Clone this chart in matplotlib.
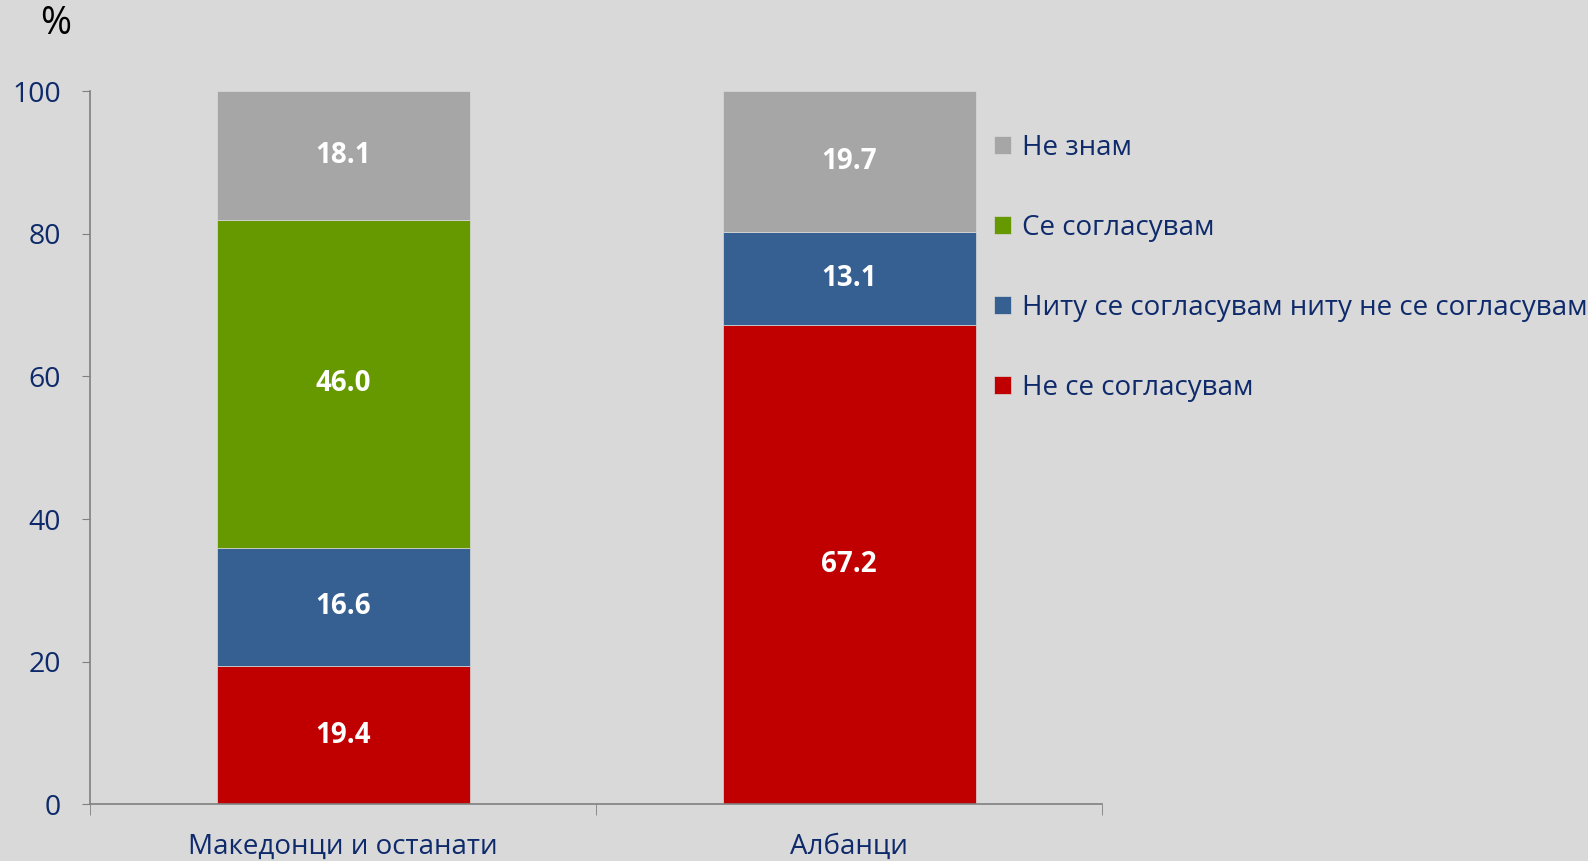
import matplotlib.pyplot as plt

categories = ['Македонци и останати', 'Албанци']
series_names = ['Не се согласувам', 'Ниту се согласувам ниту не се согласувам',
                'Се согласувам', 'Не знам']
ne_se = [19.4, 67.2]
nitu = [16.6, 13.1]
se = [46.0, 0.0]
ne_znam = [18.1, 19.7]
yticks = [0, 20, 40, 60, 80, 100]

colors = ['#C00000', '#376092', '#669900', '#A6A6A6']
navy = '#0E2A6B'
bg = '#D9D9D9'

plt.rcParams['font.family'] = ['Open Sans', 'DejaVu Sans']

fig = plt.figure(figsize=(15.88, 8.61), dpi=100, facecolor=bg)
ax = fig.add_axes([0.0567, 0.066, 0.6373, 0.828], facecolor=bg)

x = list(range(len(categories)))
bottom = [0.0, 0.0]
handles = []
for name, vals, col in zip(series_names, [ne_se, nitu, se, ne_znam], colors):
    bars = ax.bar(x, vals, 0.5, bottom=bottom, color=col, edgecolor=bg,
                  linewidth=0.5, label=name)
    labels = [f'{v:.1f}' if v > 0 else '' for v in vals]
    ax.bar_label(bars, labels=labels, label_type='center', color='white',
                 fontsize=20, fontweight='bold')
    handles.append(bars)
    bottom = [b + v for b, v in zip(bottom, vals)]

ax.set_xlim(-0.5, 1.5)
ax.set_ylim(0, 100)
ax.set_yticks(yticks)
ax.set_xticks(x)
ax.set_xticklabels(categories)
ax.set_xticks([-0.5, 0.5, 1.5], minor=True)
ax.tick_params(axis='x', which='major', length=0, pad=21, labelsize=20,
               labelcolor=navy)
ax.tick_params(axis='x', which='minor', length=8, color='#808080', direction='out')
ax.tick_params(axis='y', length=6, color='#808080', labelsize=20.5,
               labelcolor=navy, pad=15)
for s in ['top', 'right']:
    ax.spines[s].set_visible(False)
for s in ['left', 'bottom']:
    ax.spines[s].set_color('#808080')
    ax.spines[s].set_linewidth(1.2)

fig.text(0.035, 0.972, '%', fontsize=27, color='black', va='center', ha='center')

leg = ax.legend(handles[::-1], series_names[::-1], loc='upper left',
                bbox_to_anchor=(0.893, 0.94), frameon=False, fontsize=20,
                labelcolor=navy, handlelength=0.62, handleheight=0.62,
                handletextpad=0.4, labelspacing=1.87, borderaxespad=0,
                borderpad=0)

fig.savefig('out.png', dpi=100, facecolor=bg)
